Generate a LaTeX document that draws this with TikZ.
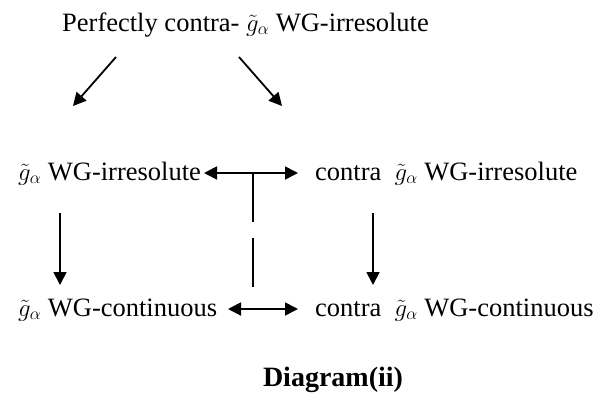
\documentclass[tikz,border=0pt]{standalone}
\usepackage{fontspec}
\setmainfont{Liberation Serif}
\usetikzlibrary{arrows.meta}
\begin{document}
\begin{tikzpicture}[x=1pt,y=-1pt,
  lbl/.style={anchor=base west,inner sep=0pt,font=\fontsize{26.5}{30}\selectfont},
  tip/.tip={Triangle[length=13pt,width=13pt]},
  conn/.style={line width=1.8pt,-tip},
  dconn/.style={line width=1.8pt,tip-tip},
  plain/.style={line width=1.5pt}]
\useasboundingbox (0,0) rectangle (604,394);
\node[lbl] (top) at (62,31) {Perfectly contra- $\tilde{g}_\alpha$ WG-irresolute};
\node[lbl] (l2) at (18,180) {$\tilde{g}_\alpha$ WG-irresolute};
\node[lbl] (r2) at (315,180) {contra\ \ $\tilde{g}_\alpha$ WG-irresolute};
\node[lbl] (l3) at (18,316) {$\tilde{g}_\alpha$ WG-continuous};
\node[lbl] (r3) at (315,316) {contra\ \ $\tilde{g}_\alpha$ WG-continuous};
\node[inner sep=0pt,anchor=base,font=\fontsize{28}{32}\selectfont\bfseries] (cap) at (333,386) {Diagram(ii)};
\coordinate (a1s) at (116,57); \coordinate (a1e) at (73,106);
\coordinate (a2s) at (239,57); \coordinate (a2e) at (282,106);
\coordinate (d1s) at (204,173); \coordinate (d1e) at (298,173);
\coordinate (d2s) at (228,309); \coordinate (d2e) at (298,309);
\coordinate (v1s) at (60,213); \coordinate (v1e) at (60,285);
\coordinate (v2s) at (373,213); \coordinate (v2e) at (373,285);
\coordinate (m0) at (253,173); \coordinate (m1) at (253,222);
\coordinate (m2) at (253,238); \coordinate (m3) at (253,287);
\draw[conn] (a1s) -- (a1e);
\draw[conn] (a2s) -- (a2e);
\draw[dconn] (d1s) -- (d1e);
\draw[dconn] (d2s) -- (d2e);
\draw[conn] (v1s) -- (v1e);
\draw[conn] (v2s) -- (v2e);
\draw[plain] (m0) -- (m1);
\draw[plain] (m2) -- (m3);
\end{tikzpicture}
\end{document}
